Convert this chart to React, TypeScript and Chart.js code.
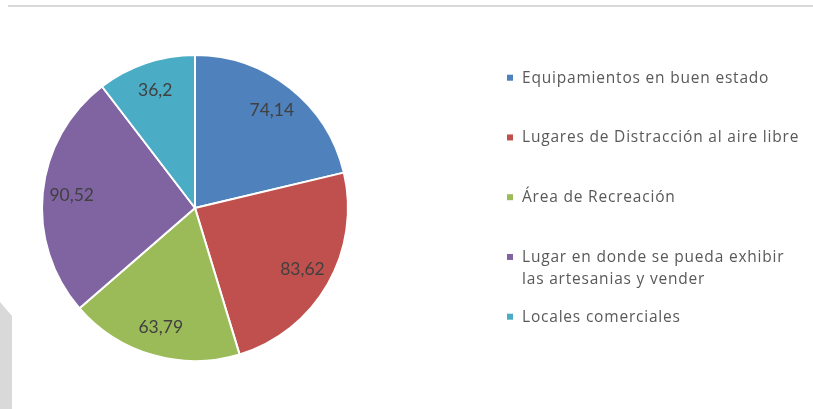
import React, { useEffect, useRef } from "react";
import { Chart, registerables } from "chart.js";

Chart.register(...registerables);

const categories = [
  "Equipamientos en buen estado",
  "Lugares de Distracción al aire libre",
  "Área de Recreación",
  "Lugar en donde se pueda exhibir las artesanias y vender",
  "Locales comerciales",
];
const values = [74.14, 83.62, 63.79, 90.52, 36.2];
const colors = ["#4F81BD", "#C0504D", "#9BBB59", "#8064A2", "#4BACC6"];

const fmt = (v: number) => String(v).replace(".", ",");

const decorPlugin = {
  id: "decor",
  beforeDraw(chart: any) {
    const ctx = chart.ctx;
    ctx.save();
    ctx.fillStyle = "#D9D9D9";
    ctx.fillRect(8, 5, 805, 2);
    ctx.beginPath();
    ctx.moveTo(0, 302);
    ctx.lineTo(12, 316);
    ctx.lineTo(12, 409);
    ctx.lineTo(0, 409);
    ctx.closePath();
    ctx.fill();
    ctx.restore();
  },
};

const labelPlugin = {
  id: "sliceLabels",
  afterDatasetsDraw(chart: any) {
    const ctx = chart.ctx;
    const meta = chart.getDatasetMeta(0);
    const ds = chart.data.datasets[0];
    ctx.save();
    ctx.font = "17.5px Lato";
    ctx.fillStyle = "#404040";
    ctx.textAlign = "center";
    ctx.textBaseline = "middle";
    meta.data.forEach((arc: any, i: number) => {
      const a = (arc.startAngle + arc.endAngle) / 2;
      const r = arc.outerRadius * 0.81;
      ctx.fillText(fmt(ds.data[i]), arc.x + Math.cos(a) * r, arc.y + Math.sin(a) * r);
    });
    ctx.restore();
  },
};

const legendPlugin = {
  id: "customLegend",
  afterDraw(chart: any) {
    const ctx = chart.ctx;
    const labels = chart.data.labels as string[];
    const bg = chart.data.datasets[0].backgroundColor as string[];
    const x0 = 507;
    const tx = 522;
    const maxW = 280;
    const firstBase = 82.7;
    const step = 59.75;
    const lineH = 21.7;
    ctx.save();
    ctx.font = "15.5px 'Open Sans'";
    (ctx as any).letterSpacing = "0.8px";
    ctx.textBaseline = "alphabetic";
    ctx.textAlign = "left";
    labels.forEach((lab, i) => {
      const words = lab.split(" ");
      const lines: string[] = [];
      let cur = "";
      words.forEach((w) => {
        const t = cur ? cur + " " + w : w;
        if (ctx.measureText(t).width > maxW && cur) {
          lines.push(cur);
          cur = w;
        } else cur = t;
      });
      if (cur) lines.push(cur);
      const base = firstBase + i * step;
      ctx.fillStyle = bg[i];
      ctx.fillRect(x0, base - 8, 6, 6);
      ctx.fillStyle = "#595959";
      lines.forEach((ln, j) => ctx.fillText(ln, tx, base + j * lineH));
    });
    ctx.restore();
  },
};

export default function App() {
  const ref = useRef<HTMLCanvasElement>(null);
  useEffect(() => {
    if (!ref.current) return;
    const chart = new Chart(ref.current, {
      type: "pie",
      data: {
        labels: categories,
        datasets: [
          {
            data: values,
            backgroundColor: colors,
            borderColor: "#FFFFFF",
            borderWidth: 2,
          },
        ],
      },
      options: {
        animation: false,
        responsive: false,
        layout: { padding: { left: 41, top: 54, right: 464, bottom: 47 } },
        plugins: {
          legend: { display: false },
          tooltip: { enabled: false },
        },
      },
      plugins: [decorPlugin, labelPlugin, legendPlugin],
    });
    return () => chart.destroy();
  }, []);
  return (
    <div style={{ position: "fixed", left: 0, top: 0, width: 813, height: 409, background: "#fff" }}>
      <canvas ref={ref} width={813} height={409} style={{ width: 813, height: 409 }} />
    </div>
  );
}
